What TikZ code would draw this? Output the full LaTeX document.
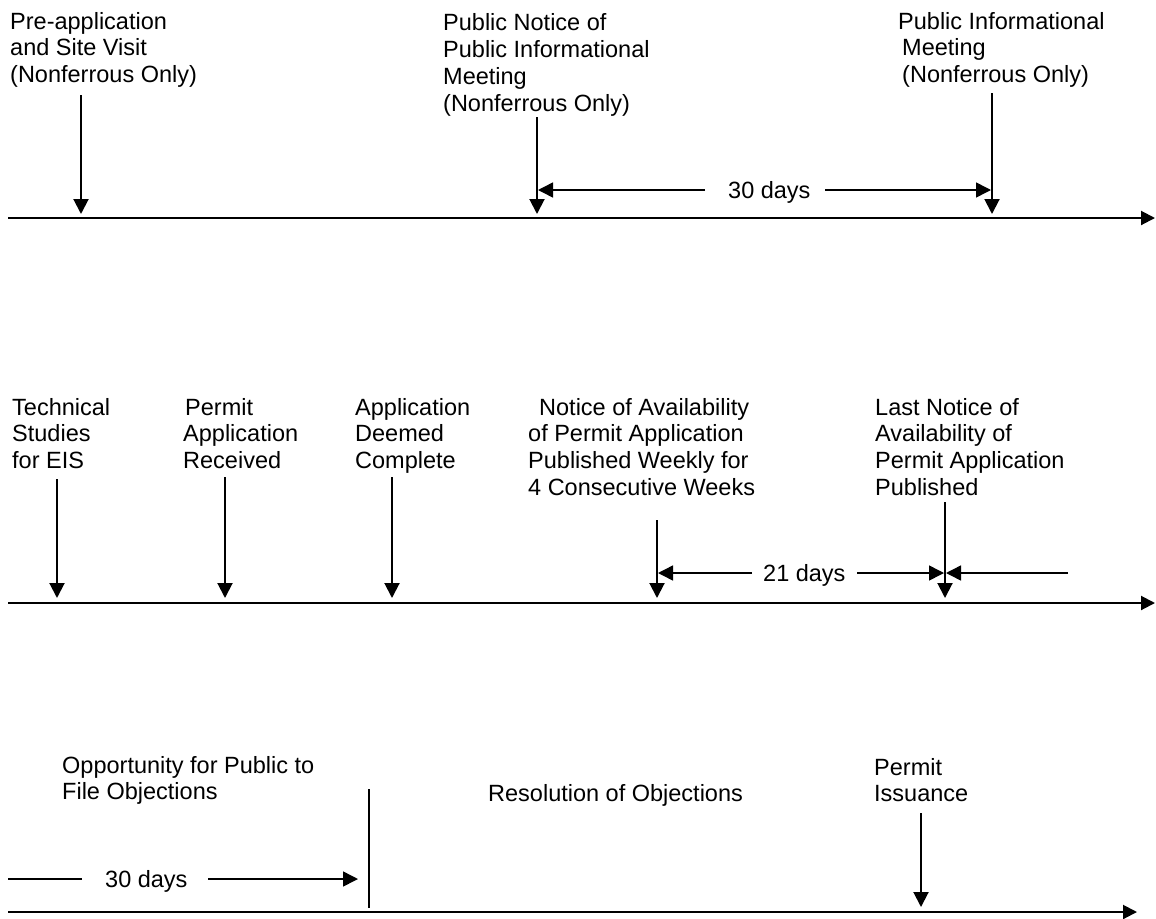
\documentclass[tikz,border=0pt]{standalone}
\usepackage{fontspec}
\setmainfont{Liberation Sans}
\usetikzlibrary{arrows.meta}
\begin{document}
\begin{tikzpicture}[x=1pt,y=-1pt,
  lbl/.style={anchor=base west, align=left, inner sep=0pt, font=\fontsize{23.5}{26.8}\selectfont},
  timeline/.style={line width=2pt, -{Triangle[length=14pt,width=14pt]}},
  event/.style={line width=2pt, -{Triangle[length=15pt,width=15pt]}},
  span/.style={line width=1.5pt, -{Triangle[length=15pt,width=15pt]}},
  plain/.style={line width=1.5pt}]
\useasboundingbox (0,0) rectangle (1156,918);

% ---------- Row 1 ----------
\coordinate (r1s) at (8,218);
\coordinate (r1e) at (1155,218);
\draw[timeline] (r1s) -- (r1e);

% anchor = baseline of the last line
\node[lbl] (tA) at (10,82.6) {Pre-application\\and Site Visit\\(Nonferrous Only)};
\coordinate (aA) at (81,95);  \coordinate (pA) at (81,214);
\draw[event] (aA) -- (pA);

\node[lbl] (tB) at (443,111) {Public Notice of\\Public Informational\\Meeting\\(Nonferrous Only)};
\coordinate (aB) at (537,117); \coordinate (pB) at (537,214);
\draw[event] (aB) -- (pB);

\node[lbl] (tC) at (898,82.6) {Public Informational\\\hspace*{4pt}Meeting\\\hspace*{4pt}(Nonferrous Only)};
\coordinate (aC) at (992,93); \coordinate (pC) at (992,214);
\draw[event] (aC) -- (pC);

\node[lbl] (d30a) at (728,198) {30 days};
\coordinate (d30aL) at (705,190); \coordinate (d30aLt) at (538,190);
\coordinate (d30aR) at (825,190); \coordinate (d30aRt) at (991,190);
\draw[span] (d30aL) -- (d30aLt);
\draw[span] (d30aR) -- (d30aRt);

% ---------- Row 2 ----------
\coordinate (r2s) at (8,603);
\coordinate (r2e) at (1155,603);
\draw[timeline] (r2s) -- (r2e);

\node[lbl] (tT) at (12,468.6) {Technical\\Studies\\for EIS};
\coordinate (aT) at (57,479); \coordinate (pT) at (57,598);
\draw[event] (aT) -- (pT);

\node[lbl] (tP) at (183,468.6) {\hspace*{2pt}Permit\\Application\\Received};
\coordinate (aP) at (225,477); \coordinate (pP) at (225,598);
\draw[event] (aP) -- (pP);

\node[lbl] (tD) at (355,468.6) {Application\\Deemed\\Complete};
\coordinate (aD) at (392,477); \coordinate (pD) at (392,598);
\draw[event] (aD) -- (pD);

\node[lbl] (tN) at (528,495.4) {\hspace*{11pt}Notice of Availability\\of Permit Application\\Published Weekly for\\4 Consecutive Weeks};
\coordinate (aN) at (657,520); \coordinate (pN) at (657,598);
\draw[event] (aN) -- (pN);

\node[lbl] (tL) at (875,495.4) {Last Notice of\\Availability of\\Permit Application\\Published};
\coordinate (aL) at (945,502); \coordinate (pL) at (945,598);
\draw[event] (aL) -- (pL);

\node[lbl] (d21) at (763,581) {21 days};
\coordinate (d21L) at (752,573); \coordinate (d21Lt) at (658,573);
\coordinate (d21R) at (857,573); \coordinate (d21Rt) at (944,573);
\coordinate (d21X) at (1068,573); \coordinate (d21Xt) at (946,573);
\draw[span] (d21L) -- (d21Lt);
\draw[span] (d21R) -- (d21Rt);
\draw[span] (d21X) -- (d21Xt);

% ---------- Row 3 ----------
\coordinate (r3s) at (8,912);
\coordinate (r3e) at (1137,912);
\draw[timeline] (r3s) -- (r3e);

\node[lbl] (tO) at (62,799.8) {Opportunity for Public to\\File Objections};
\node[lbl] (tR) at (488,801) {Resolution of Objections};
\node[lbl] (tI) at (874,801.8) {Permit\\Issuance};
\coordinate (aI) at (921,813); \coordinate (pI) at (921,907);
\draw[event] (aI) -- (pI);

\coordinate (barT) at (369,789); \coordinate (barB) at (369,908);
\draw[line width=2pt] (barT) -- (barB);

\node[lbl] (d30b) at (105,887) {30 days};
\coordinate (d30bL) at (8,879); \coordinate (d30bLe) at (82,879);
\coordinate (d30bR) at (208,879); \coordinate (d30bRt) at (358,879);
\draw[plain] (d30bL) -- (d30bLe);
\draw[span] (d30bR) -- (d30bRt);
\end{tikzpicture}
\end{document}
